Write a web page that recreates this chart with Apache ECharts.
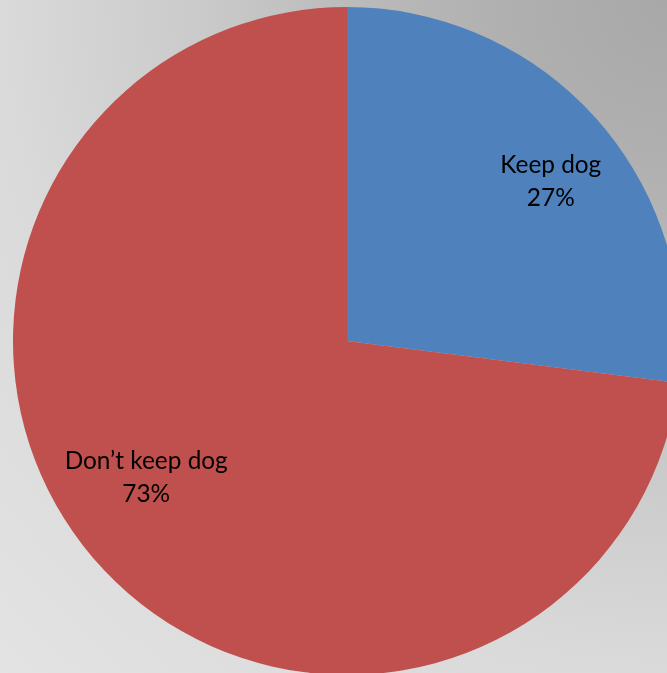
<!DOCTYPE html>
<html><head><meta charset="utf-8">
<script src="https://cdn.jsdelivr.net/npm/echarts@6/dist/echarts.min.js"></script>
<style>html,body{margin:0;padding:0;}#c{width:667px;height:673px;}</style>
</head><body><div id="c"></div>
<script>
const categories = ['Keep dog', 'Don\u2019t keep dog'];
const values = [27, 73];
const colors = ['#4F81BD', '#C0504D'];
const labelShift = [[5, 16], [-2, -39]];

const data = categories.map((n, i) => ({ name: n, value: values[i], itemStyle: { color: colors[i] } }));
const chart = echarts.init(document.getElementById('c'));
chart.setOption({
  backgroundColor: {
    type: 'radial', x: 1, y: 0, r: 1.45,
    colorStops: [
      { offset: 0, color: '#a8a8a8' }, { offset: 0.17, color: '#b0b0b0' },
      { offset: 0.34, color: '#bcbcbc' }, { offset: 0.48, color: '#cacaca' },
      { offset: 0.69, color: '#dadada' }, { offset: 1, color: '#e4e4e4' }]
  },
  series: [{
    type: 'pie', center: [347, 341], radius: [0, 334], startAngle: 90, clockwise: true,
    silent: true, animation: false, label: { show: false }, labelLine: { show: false },
    data: data
  }, {
    type: 'pie', center: [347, 341], radius: [190, 334], startAngle: 90, clockwise: true,
    silent: true, animation: false,
    itemStyle: { color: 'rgba(0,0,0,0)' },
    label: {
      show: true, position: 'inside', fontFamily: 'Lato', fontSize: 24.4, color: '#000', lineHeight: 33,
      formatter: p => p.name + '\n' + Math.round(p.percent) + '%'
    },
    labelLayout: p => ({ dx: labelShift[p.dataIndex][0], dy: labelShift[p.dataIndex][1] }),
    labelLine: { show: false },
    data: categories.map((n, i) => ({ name: n, value: values[i], itemStyle: { color: 'rgba(0,0,0,0)' } }))
  }]
});
</script></body></html>
